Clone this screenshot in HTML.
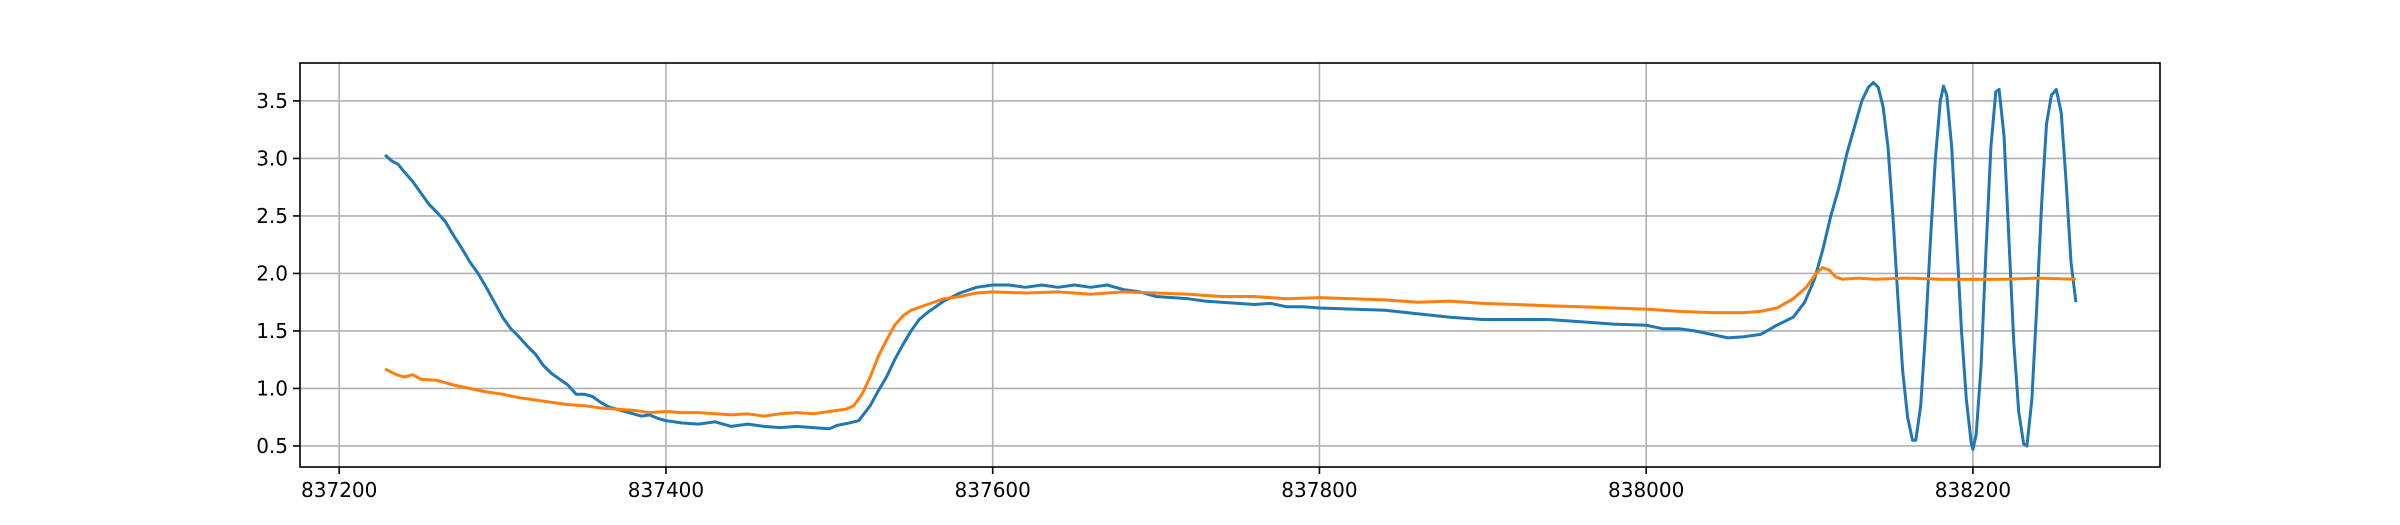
<!DOCTYPE html>
<html><head><meta charset="utf-8"><style>
body{margin:0;background:#fff;}
svg{display:block;font-family:"DejaVu Sans","Liberation Sans",sans-serif;}
</style></head><body>
<svg id="chart" width="2400" height="525"></svg>
<script>
const blueX=[837228,837232,837236,837240,837245,837250,837255,837260,837265,837270,837275,837280,837285,837290,837295,837300,837305,837310,837315,837320,837325,837330,837335,837340,837345,837350,837355,837360,837365,837370,837375,837380,837385,837390,837395,837400,837410,837420,837430,837440,837450,837460,837470,837480,837490,837500,837505,837512,837518,837525,837530,837535,837540,837545,837550,837555,837560,837570,837580,837590,837600,837610,837620,837630,837640,837650,837660,837670,837680,837690,837700,837710,837720,837730,837740,837750,837760,837770,837780,837790,837800,837820,837840,837860,837880,837900,837920,837940,837960,837980,838000,838010,838020,838030,838040,838050,838060,838070,838080,838090,838097,838103,838108,838113,838118,838123,838128,838132,838136,838139,838142,838145,838148,838151,838154,838157,838160,838163,838165,838168,838171,838174,838177,838180,838182,838184,838187,838190,838193,838196,838199,838200,838202,838205,838208,838211,838214,838216,838219,838222,838225,838228,838231,838233,838236,838239,838242,838245,838248,838251,838254,838257,838260,838263];
const blueY=[3.03,2.98,2.95,2.88,2.8,2.7,2.6,2.53,2.45,2.33,2.22,2.1,2.0,1.88,1.75,1.62,1.52,1.45,1.37,1.3,1.2,1.13,1.08,1.03,0.95,0.95,0.93,0.88,0.84,0.82,0.8,0.78,0.76,0.77,0.74,0.72,0.70,0.69,0.71,0.67,0.69,0.67,0.66,0.67,0.66,0.65,0.68,0.70,0.72,0.85,0.98,1.1,1.25,1.38,1.5,1.6,1.66,1.76,1.83,1.88,1.9,1.9,1.88,1.9,1.88,1.9,1.88,1.9,1.86,1.84,1.8,1.79,1.78,1.76,1.75,1.74,1.73,1.74,1.71,1.71,1.7,1.69,1.68,1.65,1.62,1.6,1.6,1.6,1.58,1.56,1.55,1.52,1.52,1.5,1.47,1.44,1.45,1.47,1.55,1.62,1.75,1.95,2.2,2.5,2.75,3.05,3.3,3.5,3.62,3.66,3.62,3.45,3.1,2.5,1.8,1.15,0.75,0.55,0.55,0.85,1.5,2.3,3.0,3.5,3.63,3.55,3.1,2.3,1.5,0.9,0.52,0.47,0.6,1.2,2.2,3.1,3.58,3.6,3.2,2.3,1.4,0.8,0.52,0.5,0.9,1.7,2.6,3.3,3.55,3.6,3.4,2.8,2.1,1.75];
const orangeX=[837228,837235,837240,837245,837250,837260,837270,837280,837290,837300,837310,837320,837330,837340,837350,837360,837370,837380,837390,837400,837410,837420,837430,837440,837450,837460,837470,837480,837490,837500,837510,837515,837520,837525,837530,837535,837540,837545,837550,837560,837570,837580,837590,837600,837620,837640,837660,837680,837700,837720,837740,837760,837780,837800,837820,837840,837860,837880,837900,837920,837940,837960,837980,838000,838020,838040,838060,838070,838080,838090,838098,838104,838108,838112,838116,838120,838130,838140,838160,838180,838200,838220,838240,838263];
const orangeY=[1.17,1.12,1.1,1.12,1.08,1.07,1.03,1.0,0.97,0.95,0.92,0.9,0.88,0.86,0.85,0.83,0.82,0.81,0.79,0.8,0.79,0.79,0.78,0.77,0.78,0.76,0.78,0.79,0.78,0.8,0.82,0.85,0.95,1.1,1.28,1.42,1.55,1.63,1.68,1.73,1.78,1.8,1.83,1.84,1.83,1.84,1.82,1.84,1.83,1.82,1.8,1.8,1.78,1.79,1.78,1.77,1.75,1.76,1.74,1.73,1.72,1.71,1.7,1.69,1.67,1.66,1.66,1.67,1.7,1.78,1.88,2.0,2.05,2.03,1.97,1.95,1.96,1.95,1.96,1.95,1.95,1.95,1.96,1.95];
const xTicks=[837200,837400,837600,837800,838000,838200];
const yTicks=[0.5,1.0,1.5,2.0,2.5,3.0,3.5];

const L=300,R=2160,T=63,B=467;
const xMin=837176,xMax=838314.5,yMin=0.317,yMax=3.83;
const sx=v=>L+(v-xMin)/(xMax-xMin)*(R-L);
const sy=v=>B-(v-yMin)/(yMax-yMin)*(B-T);
const svg=document.getElementById('chart');
const NS='http://www.w3.org/2000/svg';
function mk(tag,attrs){const e=document.createElementNS(NS,tag);for(const k in attrs)e.setAttribute(k,attrs[k]);svg.appendChild(e);return e;}

xTicks.forEach(t=>{
  const g=mk('line',{x1:sx(t),x2:sx(t),y1:T,y2:B,stroke:'#b0b0b0','stroke-width':1.6});
  
  
  const tk=mk('line',{x1:sx(t),x2:sx(t),y1:B,y2:B+7,stroke:'#000','stroke-width':1.6});
  
  
  const lb=mk('text',{x:sx(t),y:B+30,'text-anchor':'middle','font-size':20,fill:'#000'});
  lb.textContent=t;
  
  
});
yTicks.forEach(t=>{
  const g=mk('line',{x1:L,x2:R,y1:sy(t),y2:sy(t),stroke:'#b0b0b0','stroke-width':1.6});
  
  
  const tk=mk('line',{x1:L-7,x2:L,y1:sy(t),y2:sy(t),stroke:'#000','stroke-width':1.6});
  
  
  const lb=mk('text',{x:L-12,y:sy(t)+7,'text-anchor':'end','font-size':20,fill:'#000'});
  lb.textContent=t.toFixed(1);
  
  
});
function line(xs,ys,color,name){
  const d=xs.map((x,i)=>(i?'L':'M')+sx(x).toFixed(1)+' '+sy(ys[i]).toFixed(1)).join(' ');
  const p=mk('path',{d:d,fill:'none',stroke:color,'stroke-width':3,'stroke-linejoin':'round'});
  
  
}
line(blueX,blueY,'#1f77b4','series-blue-line');
line(orangeX,orangeY,'#ff7f0e','series-orange-line');
const fr=mk('rect',{x:L,y:T,width:R-L,height:B-T,fill:'none',stroke:'#000','stroke-width':1.6});


</script>
</body></html>
